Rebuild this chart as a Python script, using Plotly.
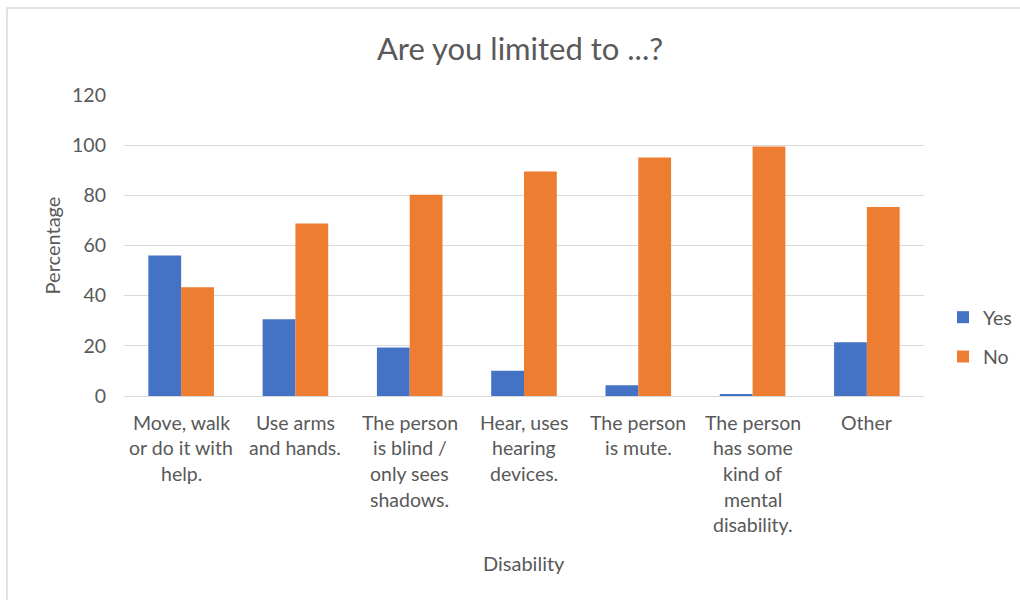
import plotly.graph_objects as go

# Survey results: share of respondents limited in each activity
categories = [
    "Move, walk<br>or do it with<br>help.",
    "Use arms<br>and hands.",
    "The person<br>is blind /<br>only sees<br>shadows.",
    "Hear, uses<br>hearing<br>devices.",
    "The person<br>is mute.",
    "The person<br>has some<br>kind of<br>mental<br>disability.",
    "Other",
]
yes_values = [56.0, 30.6, 19.3, 10.1, 4.3, 0.8, 21.4]
no_values = [43.4, 68.8, 80.2, 89.5, 95.1, 99.5, 75.3]
y_ticks = [0, 20, 40, 60, 80, 100, 120]

FONT = "Lato, 'Liberation Sans Narrow', Arial, sans-serif"
TEXT = "#595959"
GRID = "#d9d9d9"
SIZE = 19.5

fig = go.Figure()
fig.add_trace(go.Bar(name="Yes", x=categories, y=yes_values,
                     marker=dict(color="#4472C4", line=dict(width=0)),
                     legendgroup="yes"))
fig.add_trace(go.Bar(name="No", x=categories, y=no_values,
                     marker=dict(color="#ED7D31", line=dict(width=0)),
                     legendgroup="no"))

# Category labels, one line at a time for wider line spacing
annotations = []
for cat in categories:
    for i, line in enumerate(cat.split("<br>")):
        annotations.append(dict(
            x=cat, y=0, xref="x", yref="paper", text=line, showarrow=False,
            yanchor="middle", xanchor="center", yshift=-(26 + i * 25.7),
            font=dict(family=FONT, size=SIZE, color=TEXT),
        ))
annotations.append(dict(
    x=0.5, y=0, xref="paper", yref="paper", text="Disability", showarrow=False,
    yanchor="middle", xanchor="center", yshift=-167,
    font=dict(family=FONT, size=SIZE + 0.5, color=TEXT),
))

fig.update_layout(
    width=1020, height=600,
    margin=dict(l=124, r=96, t=95, b=204),
    paper_bgcolor="white", plot_bgcolor="white",
    barmode="group", bargap=0.426, bargroupgap=0,
    font=dict(family=FONT, size=SIZE, color=TEXT),
    title=dict(text="Are you limited to ...?", x=520 / 1020, xref="container",
               xanchor="center", y=1 - 49 / 600, yanchor="middle",
               font=dict(family=FONT, size=31, color=TEXT)),
    legend=dict(xref="container", yref="container",
                x=943 / 1020, xanchor="left", y=1 - 337 / 600, yanchor="middle",
                traceorder="grouped", tracegroupgap=11,
                font=dict(family=FONT, size=SIZE, color=TEXT),
                bgcolor="rgba(0,0,0,0)"),
    annotations=annotations,
    showlegend=True,
    shapes=[dict(type="rect", xref="paper", yref="paper",
                 x0=(7 - 124) / 800, x1=1.2, y0=-0.8, y1=(396 - 8) / 301,
                 line=dict(color="#d9d9d9", width=1.5), layer="below")],
)
fig.update_xaxes(showticklabels=False, showgrid=False, showline=True,
                 linecolor=GRID, linewidth=1, ticks="", zeroline=False)
fig.update_yaxes(range=[0, 120], tickvals=y_ticks, showgrid=True,
                 gridcolor=GRID, gridwidth=1, zeroline=False, showline=False,
                 ticks="", ticklabelstandoff=17,
                 tickfont=dict(family=FONT, size=SIZE, color=TEXT),
                 title=dict(text="Percentage", standoff=6,
                            font=dict(family=FONT, size=SIZE + 0.5, color=TEXT)))

fig.write_html("out.html")
